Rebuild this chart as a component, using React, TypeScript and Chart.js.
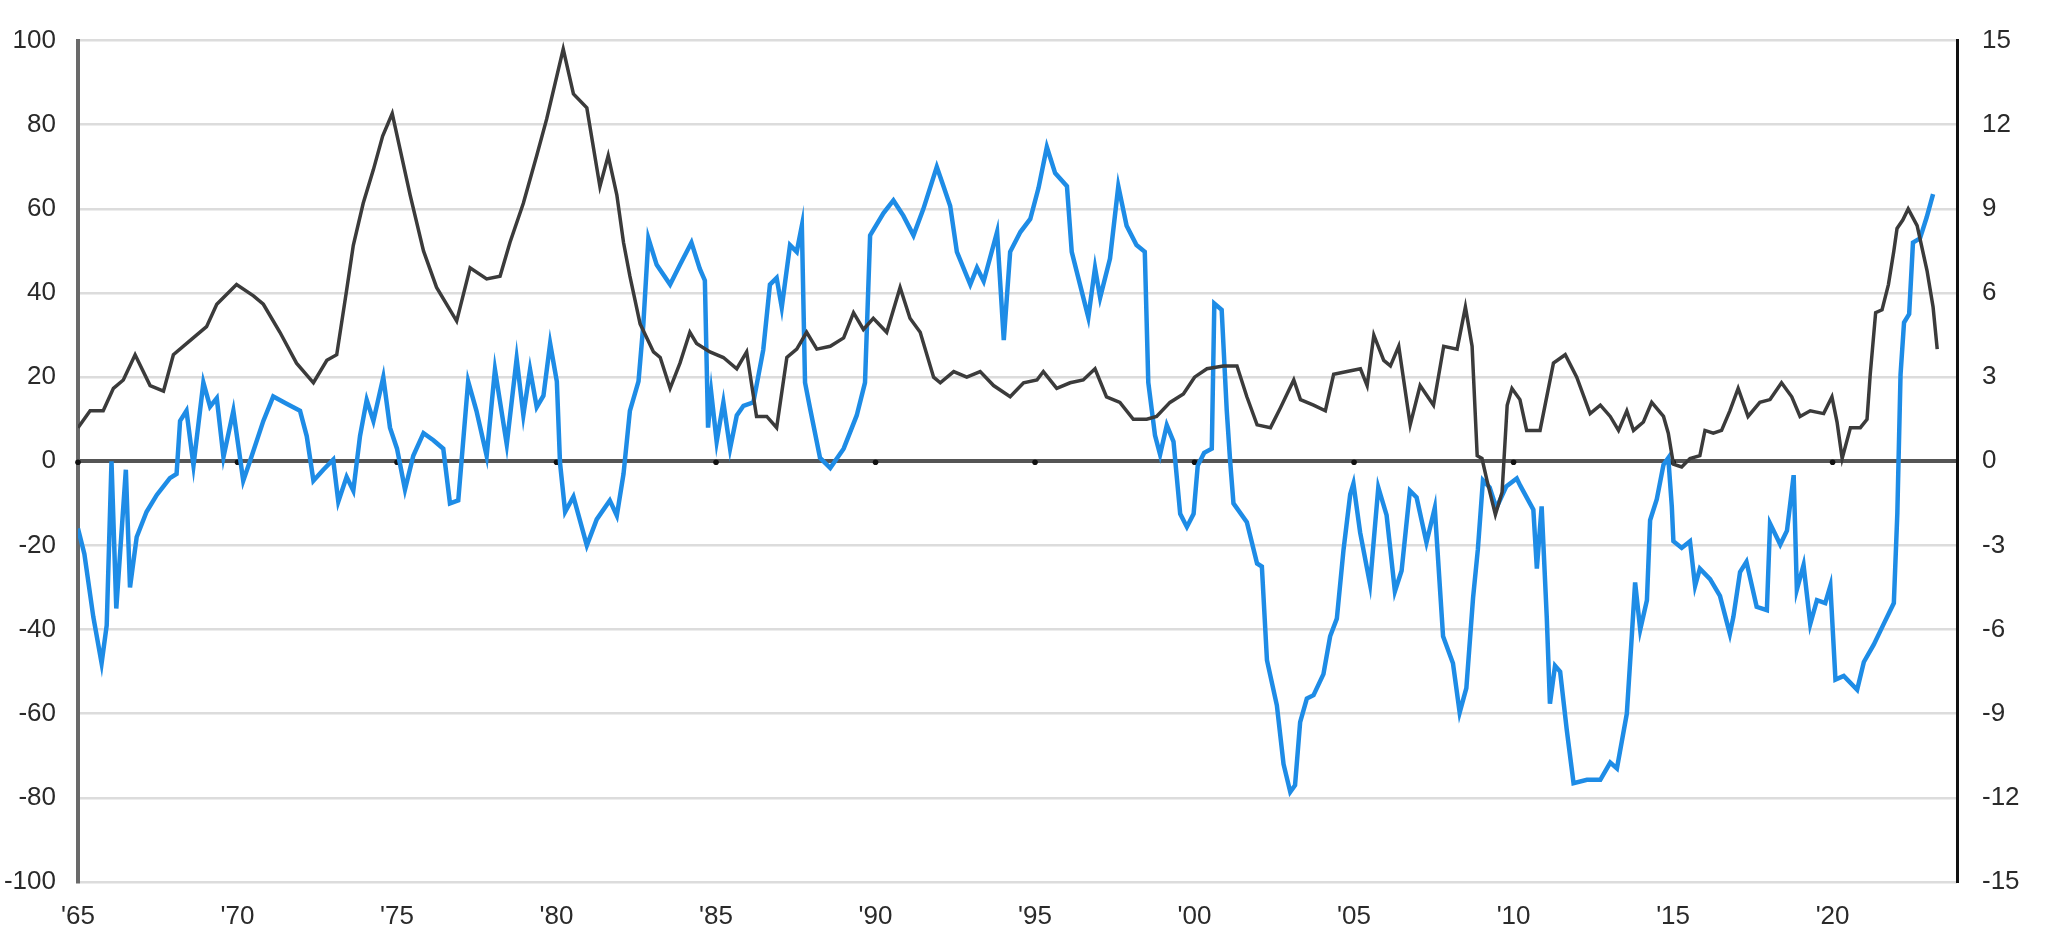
import React, { useEffect, useRef } from "react";
import { Chart, registerables } from "chart.js";

Chart.register(...registerables);

// X axis ticks
const tickYears = [1965, 1970, 1975, 1980, 1985, 1990, 1995, 2000, 2005, 2010, 2015, 2020];
const tickLabels = ["'65", "'70", "'75", "'80", "'85", "'90", "'95", "'00", "'05", "'10", "'15", "'20"];
const leftTicks = [-100, -80, -60, -40, -20, 0, 20, 40, 60, 80, 100];
const rightTicks = [-15, -12, -9, -6, -3, 0, 3, 6, 9, 12, 15];

// Blue series (left axis)
const blueYears = [
  1965.0, 1965.2, 1965.48, 1965.74, 1965.9, 1966.05, 1966.2, 1966.5, 1966.63, 1966.84, 1967.15, 1967.47, 1967.88,
  1968.09, 1968.2, 1968.4, 1968.62, 1968.93, 1969.14, 1969.35, 1969.56, 1969.87, 1970.18, 1970.39, 1970.81, 1971.12,
  1971.54, 1971.96, 1972.17, 1972.38, 1972.69, 1973.0, 1973.16, 1973.42, 1973.63, 1973.84, 1974.05, 1974.26, 1974.57,
  1974.78, 1975.0, 1975.25, 1975.51, 1975.83, 1976.14, 1976.45, 1976.66, 1976.92, 1977.23, 1977.49, 1977.81, 1978.07,
  1978.44, 1978.75, 1978.96, 1979.17, 1979.38, 1979.59, 1979.8, 1980.01, 1980.11, 1980.27, 1980.53, 1980.95, 1981.26,
  1981.67, 1981.89, 1982.1, 1982.3, 1982.57, 1982.72, 1982.88, 1983.14, 1983.56, 1983.87, 1984.23, 1984.49, 1984.65,
  1984.75, 1984.85, 1985.02, 1985.23, 1985.44, 1985.65, 1985.86, 1986.17, 1986.48, 1986.69, 1986.9, 1987.06, 1987.32,
  1987.53, 1987.69, 1987.79, 1987.95, 1988.26, 1988.58, 1989.0, 1989.41, 1989.67, 1989.83, 1990.25, 1990.56, 1990.87,
  1991.19, 1991.5, 1991.92, 1992.13, 1992.34, 1992.55, 1992.97, 1993.18, 1993.39, 1993.81, 1994.02, 1994.22, 1994.54,
  1994.85, 1995.11, 1995.37, 1995.63, 1996.0, 1996.15, 1996.41, 1996.67, 1996.88, 1997.04, 1997.35, 1997.61, 1997.87,
  1998.18, 1998.44, 1998.55, 1998.76, 1998.92, 1999.13, 1999.34, 1999.55, 1999.76, 1999.97, 2000.1, 2000.3, 2000.54,
  2000.62, 2000.85, 2001.01, 2001.12, 2001.22, 2001.64, 2001.96, 2002.11, 2002.27, 2002.58, 2002.79, 2003.0, 2003.15,
  2003.31, 2003.52, 2003.73, 2004.04, 2004.25, 2004.46, 2004.67, 2004.88, 2004.98, 2005.19, 2005.5, 2005.76, 2006.02,
  2006.28, 2006.49, 2006.75, 2006.96, 2007.27, 2007.53, 2007.79, 2008.1, 2008.31, 2008.52, 2008.73, 2008.88, 2009.04,
  2009.25, 2009.46, 2009.77, 2010.1, 2010.21, 2010.62, 2010.73, 2010.88, 2011.04, 2011.14, 2011.3, 2011.46, 2011.67,
  2011.88, 2012.3, 2012.72, 2013.03, 2013.24, 2013.55, 2013.71, 2013.81, 2013.97, 2014.18, 2014.28, 2014.49, 2014.7,
  2014.85, 2014.96, 2015.01, 2015.27, 2015.53, 2015.69, 2015.84, 2016.16, 2016.47, 2016.78, 2016.89, 2017.1, 2017.3,
  2017.62, 2017.94, 2018.04, 2018.36, 2018.57, 2018.78, 2018.88, 2019.09, 2019.3, 2019.51, 2019.77, 2019.93, 2020.09,
  2020.35, 2020.77, 2020.98, 2021.29, 2021.6, 2021.92, 2022.03, 2022.13, 2022.24, 2022.4, 2022.52, 2022.74, 2022.95,
  2023.15,
];
const blueValues = [
  -16, -22, -37, -48, -39, 0, -35, -2, -30, -18, -12, -8, -4,
  -3, 9.6, 12, -1, 18.7, 13, 15, 1, 12, -4.6, 0, 9.6, 15.4,
  13.7, 12, 6, -4.6, -2, 0.4, -9.6, -3.7, -7, 6, 14.6, 9.6, 20,
  8, 3, -6.7, 1.3, 6.7, 5, 3, -10, -9.3, 19, 12, 1.3, 21.8,
  4, 24.4, 11, 21.8, 12.9, 15.6, 28, 19, -0.4, -12, -8.4, -20, -13.8,
  -9.3, -12.9, -3, 12, 19, 32.4, 53, 46.7, 42, 46.7, 52, 45.8, 43,
  8, 16.3, 4.7, 14, 3, 10.9, 13.2, 14, 26.5, 42, 43.6, 36.6, 51.4,
  49.8, 56, 18.7, 12.5, 0.8, -1.6, 3, 10.9, 18.7, 53.7, 59, 62, 58.4,
  53.7, 60, 70, 65.4, 60.7, 49.8, 42, 46, 42.8, 54.5, 28.8, 49.8, 54.5,
  57.6, 65, 74.7, 68.5, 65.4, 49.8, 42, 34.2, 46, 38.9, 48.2, 65.4, 56,
  51.4, 49.8, 18.7, 6.2, 1.6, 8.6, 4.7, -12.5, -15.6, -12.5, -1, 2, 3,
  37.5, 36, 12, -0.4, -10, -14.5, -24.3, -25, -47.3, -58, -72, -78.6, -77,
  -62, -56.4, -55.6, -50.6, -41.6, -37.4, -21, -7.8, -5.3, -16.9, -29.2, -6.2, -12.8,
  -30.9, -26, -7, -8.6, -19.3, -11.1, -41.6, -48, -59.7, -53.9, -32.5, -21, -4.5,
  -6.2, -11.1, -6, -4.1, -5.8, -11.5, -25.5, -10.7, -37, -57.6, -48.6, -50, -64,
  -76.5, -75.7, -75.7, -71.6, -73, -60, -41, -28.8, -40, -33, -14, -9, -0.8,
  0.8, -10.7, -19, -20.6, -19, -29.6, -25.5, -28, -32, -41, -37, -26.3, -23.9,
  -34.6, -35.4, -14.8, -19.8, -16.5, -3.3, -30.5, -24.7, -38.7, -33, -33.7, -29.6, -51.9,
  -51, -54.3, -47.7, -43.6, -38.7, -33.7, -12.3, 20.6, 33, 35, 52, 53, 58,
  63.5,
];

// Dark grey series (right axis, %)
const greyYears = [
  1965.0, 1965.38, 1965.79, 1966.11, 1966.42, 1966.79, 1967.26, 1967.68, 1967.99, 1968.51, 1969.03, 1969.35, 1969.97,
  1970.5, 1970.81, 1971.33, 1971.85, 1972.38, 1972.8, 1973.11, 1973.42, 1973.63, 1973.94, 1974.26, 1974.55, 1974.85,
  1975.41, 1975.83, 1976.24, 1976.87, 1977.29, 1977.81, 1978.23, 1978.54, 1978.96, 1979.38, 1979.69, 1980.21, 1980.53,
  1980.95, 1981.36, 1981.62, 1981.89, 1982.1, 1982.3, 1982.62, 1983.04, 1983.25, 1983.56, 1983.87, 1984.18, 1984.39,
  1984.81, 1985.23, 1985.65, 1985.96, 1986.27, 1986.59, 1986.9, 1987.22, 1987.53, 1987.84, 1988.16, 1988.58, 1989.0,
  1989.31, 1989.62, 1989.93, 1990.35, 1990.77, 1991.08, 1991.4, 1991.82, 1992.03, 1992.45, 1992.86, 1993.28, 1993.7,
  1994.22, 1994.64, 1995.06, 1995.26, 1995.68, 1996.1, 1996.51, 1996.88, 1997.24, 1997.66, 1998.08, 1998.5, 1998.81,
  1999.23, 1999.65, 2000.0, 2000.39, 2000.9, 2001.33, 2001.64, 2001.96, 2002.38, 2002.69, 2003.11, 2003.32, 2003.73,
  2004.1, 2004.36, 2004.78, 2005.2, 2005.41, 2005.62, 2005.93, 2006.14, 2006.4, 2006.76, 2007.07, 2007.49, 2007.81,
  2008.23, 2008.49, 2008.7, 2008.86, 2009.01, 2009.17, 2009.43, 2009.64, 2009.8, 2009.95, 2010.2, 2010.41, 2010.83,
  2011.25, 2011.62, 2011.98, 2012.4, 2012.72, 2013.03, 2013.29, 2013.55, 2013.76, 2014.07, 2014.33, 2014.7, 2014.85,
  2015.01, 2015.27, 2015.53, 2015.84, 2016.0, 2016.26, 2016.52, 2016.78, 2017.04, 2017.35, 2017.72, 2018.04, 2018.4,
  2018.72, 2018.98, 2019.3, 2019.72, 2019.98, 2020.14, 2020.3, 2020.56, 2020.87, 2021.08, 2021.18, 2021.35, 2021.55,
  2021.75, 2021.92, 2022.02, 2022.2, 2022.37, 2022.65, 2022.96, 2023.15, 2023.28,
];
const greyValues = [
  1.2, 1.8, 1.8, 2.6, 2.9, 3.8, 2.7, 2.5, 3.8, 4.3, 4.8, 5.6, 6.3,
  5.9, 5.6, 4.6, 3.5, 2.8, 3.6, 3.8, 6.1, 7.7, 9.2, 10.4, 11.6, 12.4,
  9.5, 7.5, 6.2, 5.0, 6.9, 6.5, 6.6, 7.8, 9.2, 10.9, 12.2, 14.7, 13.1,
  12.6, 9.8, 10.9, 9.5, 7.8, 6.6, 4.9, 3.9, 3.7, 2.6, 3.5, 4.6, 4.2,
  3.9, 3.7, 3.3, 3.9, 1.6, 1.6, 1.2, 3.7, 4.0, 4.6, 4.0, 4.1, 4.4,
  5.3, 4.7, 5.1, 4.6, 6.2, 5.1, 4.6, 3.0, 2.8, 3.2, 3.0, 3.2, 2.7,
  2.3, 2.8, 2.9, 3.2, 2.6, 2.8, 2.9, 3.3, 2.3, 2.1, 1.5, 1.5, 1.6,
  2.1, 2.4, 3.0, 3.3, 3.4, 3.4, 2.3, 1.3, 1.2, 1.9, 2.9, 2.2, 2.0,
  1.8, 3.1, 3.2, 3.3, 2.7, 4.5, 3.6, 3.4, 4.1, 1.3, 2.7, 2.0, 4.1,
  4.0, 5.5, 4.1, 0.2, 0.1, -0.7, -1.9, -1.1, 2.0, 2.6, 2.2, 1.1, 1.1,
  3.5, 3.8, 3.0, 1.7, 2.0, 1.6, 1.1, 1.8, 1.1, 1.4, 2.1, 1.6, 1.0,
  -0.1, -0.2, 0.1, 0.2, 1.1, 1.0, 1.1, 1.8, 2.6, 1.6, 2.1, 2.2, 2.8,
  2.3, 1.6, 1.8, 1.7, 2.3, 1.4, 0.1, 1.2, 1.2, 1.5, 3.1, 5.3, 5.4,
  6.3, 7.5, 8.3, 8.6, 9.0, 8.4, 6.8, 5.5, 4.0,
];

const FONT = '"Liberation Sans", Arial, sans-serif';

const zeroDots = {
  id: "zeroDots",
  beforeDatasetsDraw(chart: any) {
    const { ctx, scales } = chart;
    const x = scales.x;
    const y = scales.yL;
    const y0 = y.getPixelForValue(0);
    ctx.save();
    ctx.fillStyle = "#111";
    tickYears.forEach((yr) => {
      const px = x.getPixelForValue(yr);
      ctx.beginPath();
      ctx.arc(px, y0 + 1, 2.8, 0, Math.PI * 2);
      ctx.fill();
    });
    ctx.restore();
  },
};

export default function App() {
  const ref = useRef<HTMLCanvasElement | null>(null);

  useEffect(() => {
    if (!ref.current) return;
    const chart = new Chart(ref.current, {
      type: "line",
      data: {
        datasets: [
          {
            label: "grey",
            data: greyYears.map((x, i) => ({ x, y: greyValues[i] })),
            yAxisID: "yR",
            borderColor: "#3b3b3b",
            borderWidth: 3.5,
            pointRadius: 0,
            tension: 0,
          },
          {
            label: "blue",
            data: blueYears.map((x, i) => ({ x, y: blueValues[i] })),
            yAxisID: "yL",
            borderColor: "#1e8ce6",
            borderWidth: 4.5,
            pointRadius: 0,
            tension: 0,
          },
        ],
      },
      options: {
        responsive: false,
        animation: false,
        layout: { padding: { top: 15, right: 0, bottom: 0, left: 0 } },
        plugins: { legend: { display: false }, tooltip: { enabled: false } },
        scales: {
          x: {
            type: "linear",
            min: 1965,
            max: 2023.9,
            grid: { display: false, drawTicks: false },
            border: { display: false },
            afterBuildTicks: (s: any) => {
              s.ticks = tickYears.map((v) => ({ value: v }));
            },
            afterFit: (s: any) => {
              s.height = 50;
            },
            ticks: {
              autoSkip: false,
              maxRotation: 0,
              padding: 19,
              color: "#2a2a2a",
              font: { family: FONT, size: 26 },
              callback: (_v: any, i: number) => tickLabels[i],
            },
          },
          yL: {
            type: "linear",
            position: "left",
            min: -100,
            max: 100,
            afterBuildTicks: (s: any) => {
              s.ticks = leftTicks.map((v) => ({ value: v }));
            },
            afterFit: (s: any) => {
              s.width = 78;
            },
            grid: {
              drawTicks: false,
              color: (c: any) => (c.tick && c.tick.value === 0 ? "#555555" : "#dcdcdc"),
              lineWidth: (c: any) => (c.tick && c.tick.value === 0 ? 4 : 2.5),
            },
            border: { display: true, color: "#6a6a6a", width: 4 },
            ticks: {
              padding: 22,
              color: "#2a2a2a",
              font: { family: FONT, size: 26 },
              callback: (v: any) => String(v),
            },
          },
          yR: {
            type: "linear",
            position: "right",
            min: -15,
            max: 15,
            afterBuildTicks: (s: any) => {
              s.ticks = rightTicks.map((v) => ({ value: v }));
            },
            afterFit: (s: any) => {
              s.width = 91;
            },
            grid: { drawOnChartArea: false, drawTicks: false },
            border: { display: true, color: "#111", width: 3 },
            ticks: {
              padding: 25,
              color: "#2a2a2a",
              font: { family: FONT, size: 26 },
              callback: (v: any) => String(v),
            },
          },
        },
      },
      plugins: [zeroDots],
    } as any);
    return () => chart.destroy();
  }, []);

  return (
    <div style={{ position: "fixed", left: 0, top: 0, width: 2048, height: 932, background: "#fff" }}>
      <canvas ref={ref} width={2048} height={932} style={{ width: 2048, height: 932, display: "block" }} />
    </div>
  );
}
